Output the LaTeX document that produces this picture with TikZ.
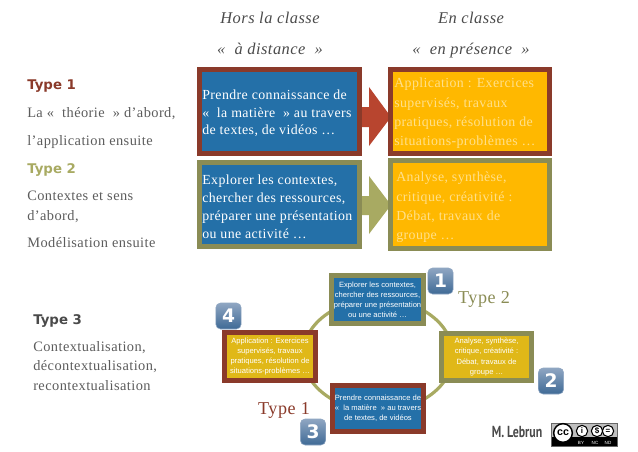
\documentclass[tikz,border=0pt]{standalone}
\usepackage{fontspec}
\setmainfont[LetterSpace=3]{Liberation Serif}
\newfontfamily\blk{Liberation Sans}
\newfontfamily\dej{DejaVu Sans}
\newfontfamily\cond{PT Sans}
\definecolor{bred}{HTML}{8A3A2A}
\definecolor{bolive}{HTML}{8A8C55}
\definecolor{ared}{HTML}{B8452F}
\definecolor{aolive}{HTML}{A8AA62}
\definecolor{cblue}{HTML}{2470A8}
\definecolor{cyel}{HTML}{FFB800}
\definecolor{cyel2}{HTML}{E0B818}
\definecolor{ctext}{HTML}{FFE08A}
\definecolor{gtext}{HTML}{5C5C5C}
\definecolor{htext}{HTML}{4A4A4A}
\definecolor{ring}{HTML}{A8AA62}
\definecolor{btop}{HTML}{8FA6C2}
\definecolor{bbot}{HTML}{3F6A96}
\tikzset{
  px/.style={x=0.75pt,y=-0.75pt},
  cardbox/.style={rectangle,inner sep=0pt,line width=3.9pt,anchor=north west},
  cardtxt/.style={anchor=north west,align=left,inner sep=0pt,font=\fontsize{10.4pt}{13.3pt}\selectfont},
  smalltxt/.style={align=center,inner sep=0pt,text=white,font=\blk\fontsize{5.7pt}{7.6pt}\selectfont},
  lefttxt/.style={anchor=base west,inner sep=0pt,text=gtext,font=\fontsize{10.8pt}{13pt}\selectfont},
  typetxt/.style={anchor=base west,inner sep=0pt,font=\dej\bfseries\fontsize{10pt}{13pt}\selectfont},
  headtxt/.style={anchor=base,inner sep=0pt,text=htext,font=\itshape\fontsize{12.3pt}{14pt}\selectfont},
  bigtype/.style={anchor=base,inner sep=0pt,font=\fontsize{13.6pt}{15pt}\selectfont},
  badge/.style={rectangle,rounded corners=3.5pt,minimum width=19pt,minimum height=19.5pt,inner sep=0pt,
    top color=btop,bottom color=bbot,draw=btop,line width=.4pt,
    text=white,font=\dej\bfseries\fontsize{14pt}{14pt}\selectfont},
}
\newcommand{\card}[7]{% name x y w h border fill
  \node[cardbox,draw=#6,fill=#7,minimum width=#4*0.75pt-3.9pt,minimum height=#5*0.75pt-3.9pt] (#1) at (#2,#3) {};}
\begin{document}
\begin{tikzpicture}[px]
\useasboundingbox (0,0) rectangle (638,451);
% headers
\node[headtxt] (h1) at (270,23) {Hors la classe};
\node[headtxt] (h2) at (270,54) {«~ à distance ~»};
\node[headtxt] (h3) at (471,23) {En classe};
\node[headtxt] (h4) at (471,54) {«~ en présence ~»};
% left column
\node[typetxt,text=bred] (t1) at (27,89) {Type 1};
\node[lefttxt] (l1) at (27,117) {La «~ théorie ~» d’abord,};
\node[lefttxt] (l2) at (27,145) {l’application ensuite};
\node[typetxt,text=aolive] (t2) at (27,173) {Type 2};
\node[lefttxt] (l3) at (27,200) {Contextes et sens};
\node[lefttxt] (l4) at (27,220) {d’abord,};
\node[lefttxt] (l5) at (27,247) {Modélisation ensuite};
\node[typetxt,text=htext] (t3) at (33,324) {Type 3};
\node[lefttxt] (l6) at (33,351) {Contextualisation,};
\node[lefttxt] (l7) at (33,370) {décontextualisation,};
\node[lefttxt] (l8) at (33,390) {recontextualisation};
% arrows
\fill[ared] (360,107) -- (369,107) -- (369,87) -- (391,117) -- (369,146) -- (369,127) -- (360,127) -- cycle;
\fill[aolive] (360,196) -- (369,196) -- (369,176) -- (391,205) -- (369,234) -- (369,215) -- (360,215) -- cycle;
% top cards
\card{a}{197}{67}{165}{89}{bred}{cblue}
\card{b}{197}{160}{165}{89}{bolive}{cblue}
\card{c}{388}{67}{164}{89}{bred}{cyel}
\card{d}{388}{158}{164}{93}{bolive}{cyel}
\node[cardtxt,text=white] (at) at (202,89.5) {Prendre connaissance de\\«~ la matière ~» au travers\\de textes, de vidéos …};
\node[cardtxt,text=white] (bt) at (202,175) {Explorer les contextes,\\chercher des ressources,\\préparer une présentation\\ou une activité …};
\node[cardtxt,text=ctext,font=\fontsize{10.4pt}{14.4pt}\selectfont] (ct) at (394,78) {Application : Exercices\\supervisés, travaux\\pratiques, résolution de\\situations-problèmes …};
\node[cardtxt,text=ctext,font=\fontsize{10.4pt}{14.4pt}\selectfont] (dt) at (396,172) {Analyse, synthèse,\\critique, créativité :\\Débat, travaux de\\groupe …};
% ring
\draw[ring,line width=2.4pt] (378,355) ellipse [x radius=75,y radius=56];
% lower cards
\card{e}{329}{273}{97}{53}{bolive}{cblue}
\card{f}{439}{331}{95}{52}{bolive}{cyel2}
\card{g}{330}{383}{96}{51}{bred}{cblue}
\card{h}{222}{330}{96}{53}{bred}{cyel2}
\node[smalltxt] (et) at (e.center) {Explorer les contextes,\\chercher des ressources,\\préparer une présentation\\ou une activité …};
\node[smalltxt] (ft) at (f.center) {Analyse, synthèse,\\critique, créativité :\\Débat, travaux de\\groupe …};
\node[smalltxt] (gt) at (g.center) {Prendre connaissance de\\«~ la matière ~» au travers\\de textes, de vidéos};
\node[smalltxt] (ht) at (h.center) {Application : Exercices\\supervisés, travaux\\pratiques, résolution de\\situations-problèmes …};
% badges
\node[badge] (b1) at (440.5,281) {1};
\node[badge] (b2) at (551,381) {2};
\node[badge] (b3) at (313,432) {3};
\node[badge] (b4) at (228.5,316) {4};
\node[bigtype,text=bolive] (ty2) at (484,303) {Type 2};
\node[bigtype,text=bred] (ty1) at (284,414) {Type 1};
% signature
\node[anchor=center,inner sep=0pt,text=htext] (sig) at (517,432) {\scalebox{.74}[1]{\cond\bfseries\fontsize{12pt}{14pt}\selectfont M. Lebrun}};
% cc badge
\fill[black!25] (551,423) rectangle (617,446);
\fill[black] (551,437) rectangle (617,446);
\draw[black!60,line width=.4pt] (551,423) rectangle (617,446);
\node[circle,draw=black,fill=white,line width=1.1pt,minimum size=14pt,inner sep=0pt,font=\blk\bfseries\fontsize{8pt}{8pt}\selectfont] (cc) at (563,433) {cc};
\node[circle,draw=black,fill=white,line width=.8pt,minimum size=8.5pt,inner sep=0pt,font=\blk\bfseries\fontsize{6pt}{6pt}\selectfont] (by) at (582,431) {i};
\node[circle,draw=black,fill=white,line width=.8pt,minimum size=8.5pt,inner sep=0pt,font=\blk\bfseries\fontsize{6pt}{6pt}\selectfont] (nc) at (597,431) {\$};
\node[circle,draw=black,fill=white,line width=.8pt,minimum size=8.5pt,inner sep=0pt,font=\blk\bfseries\fontsize{6pt}{6pt}\selectfont] (nd) at (608,431) {=};
\node[text=white,inner sep=0pt,font=\blk\fontsize{3.4pt}{4pt}\selectfont] (byt) at (581,442.5) {BY};
\node[text=white,inner sep=0pt,font=\blk\fontsize{3.4pt}{4pt}\selectfont] (nct) at (595,442.5) {NC};
\node[text=white,inner sep=0pt,font=\blk\fontsize{3.4pt}{4pt}\selectfont] (ndt) at (608,442.5) {ND};
\end{tikzpicture}
\end{document}
